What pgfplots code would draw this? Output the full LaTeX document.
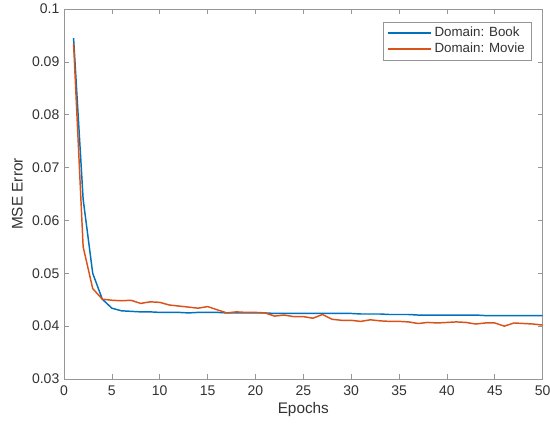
\documentclass[border=0pt]{standalone}
\usepackage{pgfplots}
\pgfplotsset{compat=1.18}
\usepackage{fontspec}
\setmainfont{Liberation Sans}
\definecolor{mblue}{RGB}{0,114,189}
\definecolor{morange}{RGB}{217,83,25}
\definecolor{axgray}{RGB}{150,150,150}
\definecolor{txt}{RGB}{50,50,50}
\begin{document}
\begin{tikzpicture}
\begin{axis}[
  name=ax,
  scale only axis,
  width=359pt, height=277.5pt,
  xmin=0, xmax=50, ymin=0.03, ymax=0.1,
  xtick={0,5,...,50},
  ytick={0.03,0.04,...,0.1},
  yticklabels={0.03,0.04,0.05,0.06,0.07,0.08,0.09,0.1},
  xticklabel style={font=\fontsize{10.5}{12}\selectfont, text=txt, yshift=-1.5pt},
  yticklabel style={font=\fontsize{10.5}{12}\selectfont, text=txt},
  /pgf/number format/assume math mode=true,
  tick align=inside,
  major tick length=3.5pt,
  tick style={axgray, line width=0.5pt},
  axis line style={axgray, line width=0.6pt},
  xlabel={Epochs}, ylabel={MSE Error},
  xlabel style={font=\fontsize{11.5}{13}\selectfont, text=txt, yshift=2pt},
  ylabel style={font=\fontsize{11.5}{13}\selectfont, text=txt, yshift=0pt},
  legend style={at={(0.977,0.966)}, anchor=north east, draw=axgray,
    font=\fontsize{10}{11.5}\selectfont\color{txt}, inner xsep=3pt, inner ysep=2pt, row sep=-0.8pt},
  legend cell align=left,
  legend image code/.code={\draw[#1, line width=1.5pt] (0cm,0cm) -- (1.12cm,0cm);},
]
\addplot[mblue, line width=1.1pt] coordinates {
(1,0.0945)(2,0.0640)(3,0.0500)(4,0.0451)(5,0.0434)(6,0.0429)(7,0.0428)(8,0.0427)(9,0.0427)(10,0.0426)
(11,0.0426)(12,0.0426)(13,0.0425)(14,0.0426)(15,0.0426)(16,0.0426)(17,0.0425)(18,0.0425)(19,0.0425)(20,0.0425)
(21,0.0425)(22,0.0424)(23,0.0424)(24,0.0424)(25,0.0424)(26,0.0424)(27,0.0424)(28,0.0424)(29,0.0424)(30,0.0424)
(31,0.0423)(32,0.0423)(33,0.0423)(34,0.0422)(35,0.0422)(36,0.0422)(37,0.0421)(38,0.0421)(39,0.0421)(40,0.0421)
(41,0.0421)(42,0.0421)(43,0.0421)(44,0.0420)(45,0.0420)(46,0.0420)(47,0.0420)(48,0.0420)(49,0.0420)(50,0.0420)
};
\addlegendentry{Domain: Book}
\addplot[morange, line width=1.1pt] coordinates {
(1,0.0935)(2,0.0550)(3,0.0471)(4,0.0451)(5,0.0449)(6,0.0448)(7,0.0449)(8,0.0443)(9,0.0446)(10,0.0445)
(11,0.0440)(12,0.0438)(13,0.0436)(14,0.0434)(15,0.0437)(16,0.0431)(17,0.0425)(18,0.0427)(19,0.0426)(20,0.0426)
(21,0.0425)(22,0.0419)(23,0.0421)(24,0.0418)(25,0.0418)(26,0.0415)(27,0.0422)(28,0.0413)(29,0.0411)(30,0.0411)
(31,0.0409)(32,0.0412)(33,0.0410)(34,0.0409)(35,0.0409)(36,0.0408)(37,0.0405)(38,0.0407)(39,0.0406)(40,0.0407)
(41,0.0408)(42,0.0407)(43,0.0404)(44,0.0406)(45,0.0406)(46,0.0400)(47,0.0406)(48,0.0405)(49,0.0404)(50,0.0402)
};
\addlegendentry{Domain: Movie}
\end{axis}
\pgfresetboundingbox
\path[use as bounding box] (-48pt,-36.75pt) rectangle (364.5pt,284.25pt);
\end{tikzpicture}
\end{document}
